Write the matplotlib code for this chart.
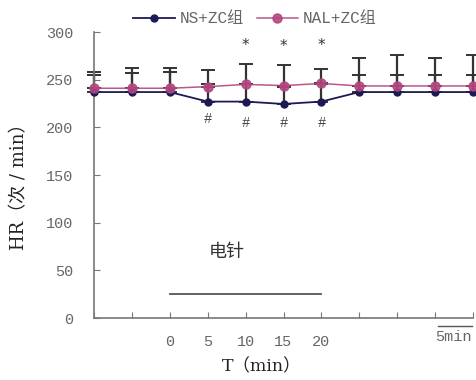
import matplotlib
matplotlib.use("Agg")
import matplotlib.pyplot as plt
import numpy as np

plt.rcParams['font.family'] = ['Liberation Mono', 'Noto Sans CJK SC', 'DejaVu Sans']

# data
positions = list(range(11))
tick_labels = ["", "", "0", "5", "10", "15", "20", "", "", "", ""]
ns_values = [237, 237, 237, 227, 227, 224.5, 227, 237, 237, 237, 237]
ns_err_up = [18, 20, 21.5, 18, 18, 18, 18, 18, 18, 18, 18]
nal_values = [241, 241, 241, 242.7, 245, 243.8, 246, 243.4, 243.4, 243.4, 243.4]
nal_err_up = [17.5, 21, 21, 17.3, 21, 21.7, 15, 29, 32.6, 29, 32.6]
star_idx = [4, 5, 6]
star_y = [286, 285, 286]
hash_idx = [3, 4, 5, 6]
hash_y = [209, 205, 205, 205]
stim_x = [2, 6]
stim_y = 25

fig = plt.figure(figsize=(4.76, 3.80), dpi=100)
ax = fig.add_axes([94/476, 1-318/380, 379/476, (318-32)/380])

ns_color = "#1c1a55"
nal_color = "#b3457f"
err_color = "#333333"
gray = "#777777"

ax.errorbar(positions, nal_values, yerr=[np.zeros(11), nal_err_up], fmt='none',
            ecolor=err_color, elinewidth=1.6, capsize=5, capthick=1.4, clip_on=False, zorder=2)
ax.errorbar(positions, ns_values, yerr=[np.zeros(11), ns_err_up], fmt='none',
            ecolor=err_color, elinewidth=1.6, capsize=5, capthick=1.4, clip_on=False, zorder=2)
l1, = ax.plot(positions, ns_values, color=ns_color, lw=1.3, marker='o', ms=5,
              clip_on=False, zorder=3, label="NS+ZC组")
l2, = ax.plot(positions, nal_values, color=nal_color, lw=1.1, marker='o', ms=6.5,
              clip_on=False, zorder=4, alpha=0.9, label="NAL+ZC组")

for i, y in zip(star_idx, star_y):
    ax.text(i, y, "*", ha='center', va='center', fontsize=11, color="#333333",
            family=['DejaVu Sans'], clip_on=False)
for i, y in zip(hash_idx, hash_y):
    ax.text(i, y, "#", ha='center', va='center', fontsize=10, color="#444444", clip_on=False)

ax.plot(stim_x, [stim_y, stim_y], color="#555555", lw=1.3)
ax.text(3.5, 69, "电针", ha='center', va='center', fontsize=13, color="#333333",
        family=['Noto Sans CJK SC'])

ax.set_xlim(0, 10)
ax.set_ylim(0, 300)
ax.set_yticks([0, 50, 100, 150, 200, 250, 300])
ax.set_xticks(positions)
ax.set_xticklabels(tick_labels)
ax.tick_params(axis='both', direction='in', length=4, color=gray, labelcolor="#666666",
               labelsize=11)
ax.tick_params(axis='x', pad=12)
ax.tick_params(axis='y', pad=15)
for s in ['top', 'right']:
    ax.spines[s].set_visible(False)
for s in ['left', 'bottom']:
    ax.spines[s].set_color(gray)
    ax.spines[s].set_linewidth(1.2)

ax.set_ylabel("HR（次 / min）", family=['DejaVu Serif', 'Noto Sans CJK SC'], fontsize=13,
              color="#222222")
ax.yaxis.set_label_coords(-66/379, (318-182)/286)
ax.set_xlabel("T（min）", family=['DejaVu Serif', 'Noto Sans CJK SC'], fontsize=12.5,
              color="#222222")
ax.xaxis.set_label_coords((262-94)/379, -40/286)

# scale bar
fig.add_artist(plt.Line2D([438/476, 472/476], [1-326/380, 1-326/380], color="#555555", lw=1))
fig.text(453/476, 1-337/380, "5min", ha='center', va='center', fontsize=11, color="#666666")

leg = fig.legend(handles=[l1, l2], loc='center', bbox_to_anchor=(255/476, 1-19/380),
                 ncol=2, frameon=False, fontsize=11.5, handlelength=2.6, columnspacing=0.8,
                 handletextpad=0.3, labelcolor="#666666")

fig.savefig("out.png", dpi=100)
